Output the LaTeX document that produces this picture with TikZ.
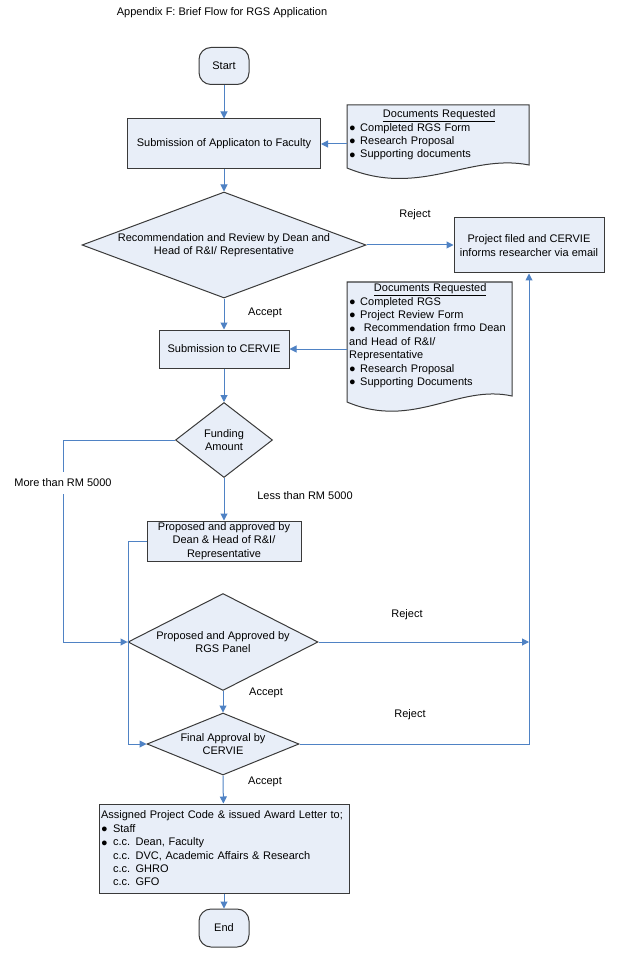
\documentclass[tikz,border=0pt]{standalone}
\usepackage{fontspec}
\setmainfont{Liberation Sans}
\usetikzlibrary{arrows.meta,shapes.geometric}
\definecolor{lineblue}{HTML}{4F82C4}
\definecolor{boxfill}{HTML}{E8EEF8}
\definecolor{boxdraw}{HTML}{3A3A3A}
\newcommand{\blt}[1]{\makebox[#1][l]{\raisebox{-0.3pt}{\fontsize{11}{11}\selectfont ●}}}
\begin{document}
\begin{tikzpicture}[x=1pt,y=-1pt,
  every node/.style={font=\fontsize{11}{13.4}\selectfont, inner sep=0pt},
  proc/.style={rectangle, draw=boxdraw, fill=boxfill, line width=1pt, align=center},
  term/.style={proc, rounded corners=12pt},
  dec/.style={diamond, draw=boxdraw, fill=boxfill, line width=1pt},
  docshape/.style={draw=boxdraw, fill=boxfill, line width=1pt},
  doctext/.style={align=left, anchor=north west},
  flow/.style={draw=lineblue, line width=1pt, -{Triangle[length=7pt,width=7pt]}},
  lbl/.style={}
]
\useasboundingbox (0,0) rectangle (620,957);

% title
\node[lbl] (title) at (222,13) {Appendix F: Brief Flow for RGS Application};

% document shapes
\path[docshape] (347,105) -- (529,105) -- (529,165)
  .. controls (469,153) and (420,198) .. (347,168) -- cycle;
\node[doctext, text width=180pt] (doc1) at (349,109.5)
  {\makebox[\linewidth][c]{\underline{Documents Requested}}\\
   \blt{11pt}Completed RGS Form\\
   \blt{11pt}Research Proposal\\
   \blt{11pt}Supporting documents};
\coordinate (doc1in) at (347,144);

\path[docshape] (347,282) -- (512,282) -- (512,396)
  .. controls (458,384) and (413,430) .. (347,402) -- cycle;
\node[doctext, text width=162pt] (doc2) at (349,283.5)
  {\makebox[\linewidth][c]{\underline{Documents Requested}}\\
   \blt{11pt}Completed RGS\\
   \blt{11pt}Project Review Form\\
   \blt{11pt} Recommendation frmo Dean\\
   and Head of R\&I/\\
   Representative\\
   \blt{11pt}Research Proposal\\
   \blt{11pt}Supporting Documents};
\coordinate (doc2in) at (347,349);

% main nodes
\node[term, minimum width=50pt, minimum height=37pt] (start) at (224,66) {Start};
\node[proc, minimum width=193pt, minimum height=50pt] (sub) at (224,144) {Submission of Applicaton to Faculty};
\node[dec, minimum width=284pt, minimum height=106pt,
  label={[align=center]center:Recommendation and Review by Dean and\\Head of R\&I/ Representative}] (d1) at (224,245) {};
\node[proc, minimum width=150pt, minimum height=55pt] (proj) at (529,245.5) {Project filed and CERVIE\\informs researcher via email};
\node[proc, minimum width=130pt, minimum height=38pt] (cervie) at (224,349) {Submission to CERVIE};
\node[dec, minimum width=97pt, minimum height=75pt,
  label={[align=center]center:Funding\\Amount}] (fund) at (224,440) {};
\node[proc, minimum width=154pt, minimum height=40pt] (prop) at (224,541) {Proposed and approved by\\Dean \& Head of R\&I/\\Representative};
\node[dec, minimum width=190pt, minimum height=97pt,
  label={[align=center]center:Proposed and Approved by\\RGS Panel}] (rgs) at (223,642) {};
\node[dec, minimum width=152pt, minimum height=62pt,
  label={[align=center]center:Final Approval by\\CERVIE}] (final) at (223,744) {};
\node[proc, minimum width=250pt, minimum height=89pt, text width=246pt, align=left] (award) at (224,848.5)
  {Assigned Project Code \& issued Award Letter to;\\
   \blt{12pt}Staff\\
   \blt{12pt}c.c. Dean, Faculty\\
   \hspace*{12pt}c.c. DVC, Academic Affairs \& Research\\
   \hspace*{12pt}c.c. GHRO\\
   \hspace*{12pt}c.c. GFO};
\node[term, minimum width=50pt, minimum height=38pt] (end) at (224,928) {End};

% route coordinates
\coordinate (lft) at (63,642);
\coordinate (lft2) at (128,744);
\coordinate (rj1) at (529,642);
\coordinate (rj2) at (529,744);

% connectors
\draw[flow] (start) -- (sub);
\draw[flow] (doc1in) -- (sub.east |- doc1in);
\draw[flow] (sub) -- (d1.north);
\draw[flow] (d1.east) -- (proj.west |- d1.east);
\draw[flow] (d1.south) -- (cervie);
\draw[flow] (doc2in) -- (cervie.east);
\draw[flow] (cervie) -- (fund.north);
\draw[flow] (fund.south) -- (prop);
\draw[flow] (fund.west) -| (lft) -- (rgs.west);
\draw[flow] (prop.west) -| (lft2) -- (final.west);
\draw[flow] (rgs.south) -- (final.north);
\draw[flow] (rgs.east) -- (rj1);
\draw[flow] (final.east) -- (rj2) -- (proj.south);
\draw[flow] (final.south) -- (award);
\draw[flow] (award) -- (end);

% labels
\node[lbl] (rej1) at (415,215) {Reject};
\node[lbl] (acc1) at (265,313) {Accept};
\node[lbl, fill=white, inner ysep=7pt, inner xsep=0pt] (more) at (63,483) {More than RM 5000};
\node[lbl] (less) at (305,496) {Less than RM 5000};
\node[lbl] (rej2) at (407,615) {Reject};
\node[lbl] (acc2) at (266,693) {Accept};
\node[lbl] (rej3) at (410,715) {Reject};
\node[lbl] (acc3) at (265,782) {Accept};
\end{tikzpicture}
\end{document}
